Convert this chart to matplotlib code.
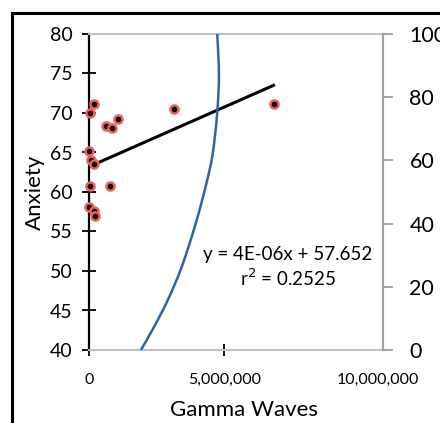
import numpy as np
import matplotlib.pyplot as plt
from matplotlib.patches import Rectangle, PathPatch
from matplotlib.path import Path

# scatter data (Gamma Waves vs Anxiety)
gamma = [0.185e6, 0.05e6, 0.64e6, 0.86e6, 1.085e6, 3.15e6, 0.0, 0.06e6, 0.185e6,
         0.03e6, 0.77e6, 0.0, 0.17e6, 0.22e6, 6.81e6]
anxiety = [71.2, 70.0, 68.4, 68.1, 69.2, 70.5, 65.2, 64.05, 63.5,
           60.8, 60.8, 58.1, 57.6, 56.9, 71.2]

# linear trendline as drawn
trend_x = [0.0, 6.81e6]
trend_y = [63.2, 73.5]

# blue curve on secondary axis (smoothed line)
curve_x = [1.915e6, 2.407e6, 2.907e6, 3.426e6, 3.944e6, 4.32e6, 4.56e6,
           4.726e6, 4.796e6, 4.733e6]
curve_y = [0.0, 7.4, 15.8, 26.4, 40.2, 52.3, 61.8, 74.5, 87.0, 100.0]

x_ticks = [0, 5e6]
x_labels = ['0', '5,000,000']
y_ticks = [40, 45, 50, 55, 60, 65, 70, 75, 80]
y2_ticks = [0, 20, 40, 60, 80, 100]


def smooth_path(ax, xs, ys):
    # Catmull-Rom style bezier through the points, done in display space
    pts = ax.transData.transform(np.column_stack([xs, ys]))
    verts = [pts[0]]
    codes = [Path.MOVETO]
    n = len(pts)
    for i in range(n - 1):
        p0 = pts[max(i - 1, 0)]
        p1 = pts[i]
        p2 = pts[i + 1]
        p3 = pts[min(i + 2, n - 1)]
        c1 = p1 + (p2 - p0) / 6
        c2 = p2 - (p3 - p1) / 6
        verts += [c1, c2, p2]
        codes += [Path.CURVE4] * 3
    return Path(verts, codes)


plt.rcParams['font.family'] = ['Lato', 'DejaVu Sans']

fig = plt.figure(figsize=(4.4, 4.23), dpi=100)
fig.patches.append(Rectangle((12/440, -0.1), 1.2, 1.1 - 13/423, transform=fig.transFigure,
                             fill=False, edgecolor='black', linewidth=2.2))

ax = fig.add_axes([89/440, 1 - 350/423, 294/440, 316/423])
ax.set_xlim(0, 10.85e6)
ax.set_ylim(40, 80)

ax.plot(trend_x, trend_y, color='black', linewidth=2.2, zorder=3)
ax.scatter(gamma, anxiety, s=34, facecolor='black', edgecolor='#f06060',
           linewidth=1.8, zorder=4, clip_on=False)

ax.set_yticks(y_ticks)
ax.set_xticks(x_ticks)
ax.set_xticklabels(x_labels)
ax.tick_params(axis='y', direction='inout', length=10, width=1.3, labelsize=14, pad=7)
ax.tick_params(axis='x', direction='inout', length=9, width=1.3, labelsize=11.5, pad=12)
ax.text(0.983, -0.095, '10,000,000', transform=ax.transAxes, ha='center', va='center',
        fontsize=11.5)

for side in ['top', 'bottom', 'right']:
    ax.spines[side].set_color('#c0c0c0')
    ax.spines[side].set_linewidth(1.5)
ax.spines['left'].set_linewidth(1.6)

ax.set_ylabel('Anxiety', fontsize=16, labelpad=3)
ax.set_xlabel('Gamma Waves', fontsize=16)
ax.xaxis.set_label_coords(0.527, -0.19)
ax.xaxis.label.set_va('center')

ax.text(0.677, 0.262, 'y = 4E-06x + 57.652\nr$^2$ = 0.2525', transform=ax.transAxes,
        ha='center', va='center', fontsize=13.5, linespacing=1.25)

ax2 = ax.twinx()
ax2.set_ylim(0, 100)
ax2.set_yticks(y2_ticks)
ax2.tick_params(axis='y', direction='out', length=7, width=1.3, color='#a0a0a0',
                labelsize=15.5, pad=12)
for side in ['top', 'bottom', 'left']:
    ax2.spines[side].set_visible(False)
ax2.spines['right'].set_color('#a0a0a0')
ax2.spines['right'].set_linewidth(1.5)

curve = PathPatch(smooth_path(ax2, curve_x, curve_y), transform=None, fill=False,
                  edgecolor='#2f62ad', linewidth=1.8, zorder=2)
curve.set_clip_box(ax2.bbox)
ax2.add_artist(curve)

fig.savefig('out.png', dpi=100)
